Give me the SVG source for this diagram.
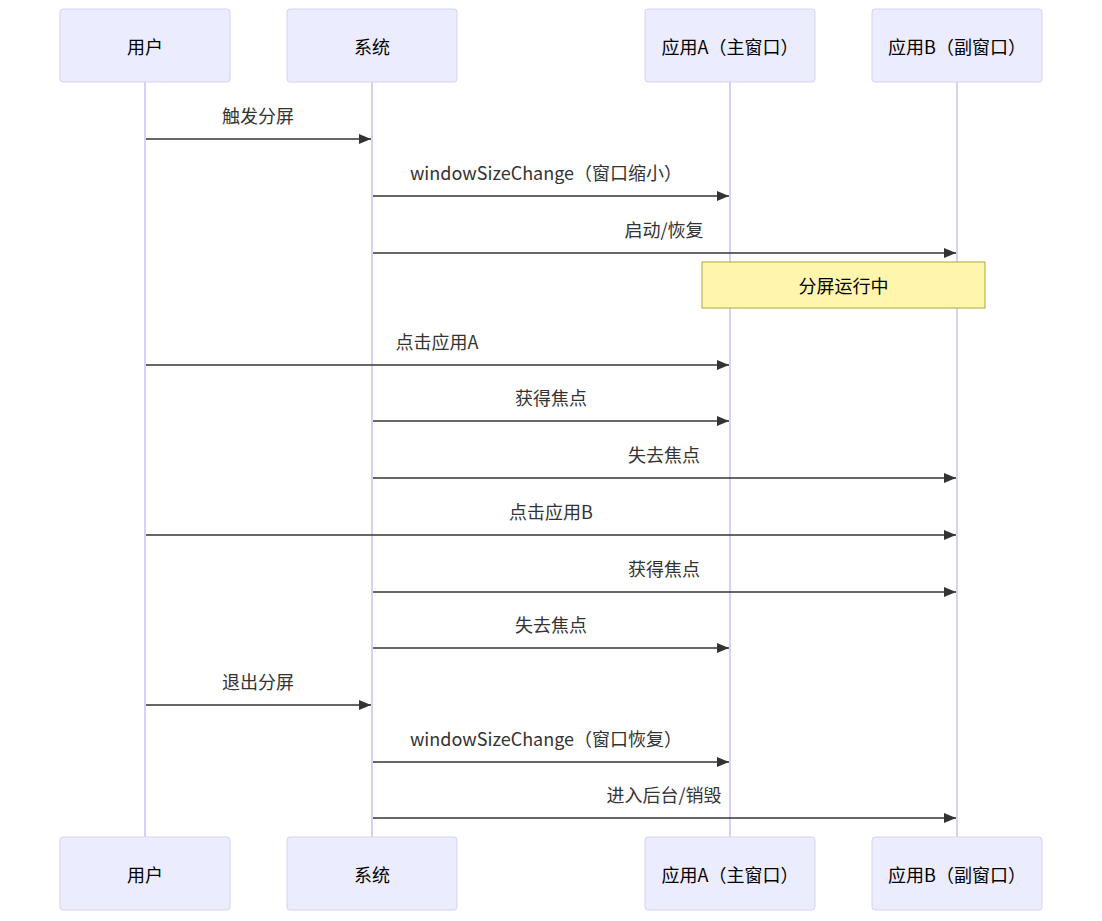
<svg xmlns="http://www.w3.org/2000/svg" width="1102" height="921" viewBox="0 0 1102 921">
<style>
.actor{fill:#ECECFF;stroke:#D9D0F5;stroke-width:1}
.life{stroke:#D9D0F5;stroke-width:2}
.atext{font-family:"Noto Sans CJK SC","Liberation Sans",sans-serif;font-size:18px;fill:#000;text-anchor:middle;dominant-baseline:central}
.mtext{font-family:"Noto Sans CJK SC","Liberation Sans",sans-serif;font-size:18px;fill:#333;text-anchor:middle}
.msg{stroke:#333;stroke-width:1.5;fill:none;marker-end:url(#arrow)}
.note{fill:#FFF5AD;stroke:#AAAA33;stroke-width:1}
</style>
<defs>
<marker id="arrow" markerWidth="12" markerHeight="10" refX="12" refY="5" orient="auto" markerUnits="userSpaceOnUse">
<path d="M0,0 L12,5 L0,10 Z" fill="#333"/>
</marker>
</defs>
<rect width="1102" height="921" fill="#fff"/>
<g id="lifelines">
<line class="life" x1="145" y1="82" x2="145" y2="837"/>
<line class="life" x1="372" y1="82" x2="372" y2="837"/>
<line class="life" x1="730" y1="82" x2="730" y2="837"/>
<line class="life" x1="957" y1="82" x2="957" y2="837"/>
</g>
<g id="actor-user-top"><rect class="actor" x="60" y="9" width="170" height="73" rx="3"/><text class="atext" x="145" y="46">用户</text></g>
<g id="actor-sys-top"><rect class="actor" x="287" y="9" width="170" height="73" rx="3"/><text class="atext" x="372" y="46">系统</text></g>
<g id="actor-a-top"><rect class="actor" x="645" y="9" width="170" height="73" rx="3"/><text class="atext" x="730" y="46">应用A（主窗口）</text></g>
<g id="actor-b-top"><rect class="actor" x="872" y="9" width="170" height="73" rx="3"/><text class="atext" x="957" y="46">应用B（副窗口）</text></g>
<g id="actor-user-bottom"><rect class="actor" x="60" y="837" width="170" height="73" rx="3"/><text class="atext" x="145" y="874">用户</text></g>
<g id="actor-sys-bottom"><rect class="actor" x="287" y="837" width="170" height="73" rx="3"/><text class="atext" x="372" y="874">系统</text></g>
<g id="actor-a-bottom"><rect class="actor" x="645" y="837" width="170" height="73" rx="3"/><text class="atext" x="730" y="874">应用A（主窗口）</text></g>
<g id="actor-b-bottom"><rect class="actor" x="872" y="837" width="170" height="73" rx="3"/><text class="atext" x="957" y="874">应用B（副窗口）</text></g>
<g id="note-split"><rect class="note" x="702" y="262" width="283" height="46"/><text class="atext" x="843.5" y="285">分屏运行中</text></g>
<g id="connectors">
<line class="msg" x1="146" y1="139" x2="371" y2="139"/>
<text class="mtext" x="258" y="123">触发分屏</text>
<line class="msg" x1="373" y1="196" x2="729" y2="196"/>
<text class="mtext" x="546" y="180">windowSizeChange（窗口缩小）</text>
<line class="msg" x1="373" y1="253" x2="956" y2="253"/>
<text class="mtext" x="664" y="237">启动/恢复</text>
<line class="msg" x1="146" y1="365" x2="729" y2="365"/>
<text class="mtext" x="437" y="349">点击应用A</text>
<line class="msg" x1="373" y1="421" x2="729" y2="421"/>
<text class="mtext" x="551" y="405">获得焦点</text>
<line class="msg" x1="373" y1="478" x2="956" y2="478"/>
<text class="mtext" x="664" y="462">失去焦点</text>
<line class="msg" x1="146" y1="535" x2="956" y2="535"/>
<text class="mtext" x="551" y="519">点击应用B</text>
<line class="msg" x1="373" y1="592" x2="956" y2="592"/>
<text class="mtext" x="664" y="576">获得焦点</text>
<line class="msg" x1="373" y1="648" x2="729" y2="648"/>
<text class="mtext" x="551" y="632">失去焦点</text>
<line class="msg" x1="146" y1="705" x2="371" y2="705"/>
<text class="mtext" x="258" y="689">退出分屏</text>
<line class="msg" x1="373" y1="762" x2="729" y2="762"/>
<text class="mtext" x="546" y="746">windowSizeChange（窗口恢复）</text>
<line class="msg" x1="373" y1="818" x2="956" y2="818"/>
<text class="mtext" x="664" y="802">进入后台/销毁</text>
</g>
</svg>
